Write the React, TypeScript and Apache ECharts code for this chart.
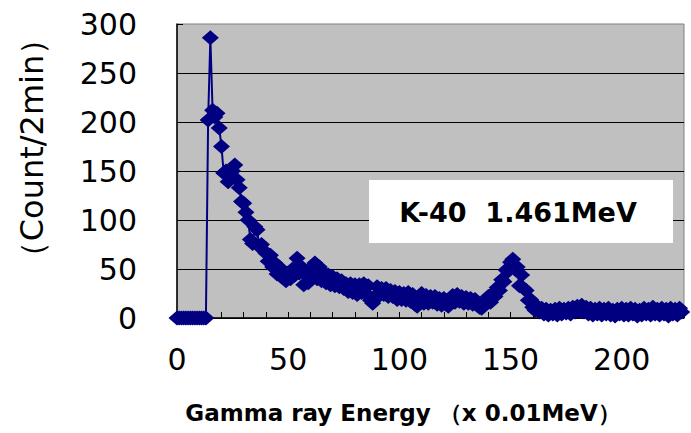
import React, { useEffect, useRef } from "react";
import * as echarts from "echarts";

// Tick labels
const xTickLabels = [0, 50, 100, 150, 200];
const yTickLabels = [0, 50, 100, 150, 200, 250, 300];

// Counts per energy channel (index = channel on the drawn x axis)
const counts = [
  0, 0, 0, 0, 0, 0, 0, 0, 0, 0,
  0, 0, 0, 0, 202, 286, 212, 205, 209, 194,
  175, 148, 150, 139, 143, 150, 156, 141, 133, 119,
  117, 108, 100, 80, 76, 93, 90, 73, 75, 69,
  66, 58, 64, 52, 56, 45, 52, 42, 47, 38,
  46, 40, 50, 44, 61, 46, 52, 34, 44, 36,
  50, 44, 56, 40, 52, 38, 46, 36, 44, 34,
  42, 33, 40, 32, 38, 30, 35, 27, 35, 26,
  34, 24, 34, 26, 35, 25, 33, 18, 15, 22,
  32, 23, 30, 24, 30, 22, 28, 22, 27, 19,
  26, 19, 25, 18, 26, 17, 24, 14, 12, 17,
  25, 15, 23, 15, 22, 16, 22, 14, 20, 13,
  20, 14, 12, 17, 23, 16, 24, 17, 22, 15,
  21, 15, 20, 14, 19, 13, 11, 10, 14, 16,
  22, 16, 25, 22, 31, 28, 39, 37, 49, 48,
  57, 60, 50, 52, 33, 44, 30, 28, 18, 19,
  11, 8, 12, 6, 10, 4, 9, 3, 8, 4,
  9, 3, 10, 4, 9, 5, 10, 4, 11, 6,
  12, 7, 13, 6, 11, 4, 10, 3, 9, 4,
  10, 3, 9, 4, 10, 3, 8, 2, 9, 4,
  10, 3, 9, 3, 10, 4, 9, 2, 8, 3,
  10, 4, 9, 3, 11, 4, 9, 3, 10, 4,
  9, 2, 10, 4, 9, 3, 10, 6,
];

const annotationText = "K-40  1.461MeV";
const xAxisTitle = "Gamma ray Energy （x 0.01MeV）";
const yAxisTitle = "（Count/2min）";

export default function App() {
  const ref = useRef<HTMLDivElement>(null);

  useEffect(() => {
    const chart = echarts.init(ref.current as HTMLDivElement, null, { renderer: "svg" });
    const data = counts.map((v, i) => [i, v]);
    chart.setOption({
      animation: false,
      backgroundColor: "#ffffff",
      grid: {
        left: 177,
        right: 7,
        top: 24,
        bottom: 115,
        show: true,
        backgroundColor: "#C0C0C0",
        borderColor: "#808080",
        borderWidth: 1,
      },
      xAxis: {
        type: "value",
        min: 0,
        max: 228,
        interval: 10,
        axisLine: { show: true, onZero: false, lineStyle: { color: "#000", width: 1.5 } },
        axisTick: { show: true, inside: true, length: 6, lineStyle: { color: "#000", width: 1 } },
        splitLine: { show: false },
        axisLabel: {
          formatter: (v: number) => (xTickLabels.includes(v) ? String(v) : ""),
          fontSize: 30,
          color: "#000",
          margin: 26,
          fontFamily: "DejaVu Sans",
        },
      },
      yAxis: {
        type: "value",
        min: 0,
        max: 300,
        interval: 50,
        axisLine: { show: true, lineStyle: { color: "#000", width: 1.5 } },
        axisTick: { show: true, inside: true, length: 6, lineStyle: { color: "#000" } },
        splitLine: { show: true, showMaxLine: false, lineStyle: { color: "#000", width: 1.2 } },
        axisLabel: {
          formatter: (v: number) => (yTickLabels.includes(v) ? String(v) : ""),
          fontSize: 30,
          color: "#000",
          margin: 40,
          fontFamily: "DejaVu Sans",
        },
      },
      series: [
        {
          type: "line",
          data,
          symbol: "diamond",
          symbolSize: [17, 15],
          showSymbol: true,
          clip: false,
          lineStyle: { color: "#000080", width: 2 },
          itemStyle: { color: "#000080" },
        },
      ],
      graphic: [
        {
          type: "rect",
          shape: { x: 369, y: 180, width: 304, height: 63 },
          style: { fill: "#ffffff" },
          z: 100,
        },
        {
          type: "text",
          x: 518,
          y: 212,
          z: 101,
          style: {
            text: annotationText,
            fontSize: 27,
            fontWeight: "bold",
            fontFamily: "DejaVu Sans",
            fill: "#000",
            textAlign: "center",
            textVerticalAlign: "middle",
          },
        },
        {
          type: "text",
          x: 403,
          y: 413,
          style: {
            text: xAxisTitle,
            fontSize: 23,
            fontWeight: "bold",
            fontFamily: "DejaVu Sans",
            fill: "#000",
            textAlign: "center",
            textVerticalAlign: "middle",
          },
        },
        {
          type: "text",
          x: 32,
          y: 148,
          rotation: Math.PI / 2,
          style: {
            text: yAxisTitle,
            fontSize: 32,
            fontFamily: "DejaVu Sans",
            fill: "#000",
            textAlign: "center",
            textVerticalAlign: "middle",
          },
        },
      ],
    });
    return () => chart.dispose();
  }, []);

  return (
    <div
      ref={ref}
      style={{ position: "absolute", left: 0, top: 0, width: 691, height: 433 }}
    />
  );
}
